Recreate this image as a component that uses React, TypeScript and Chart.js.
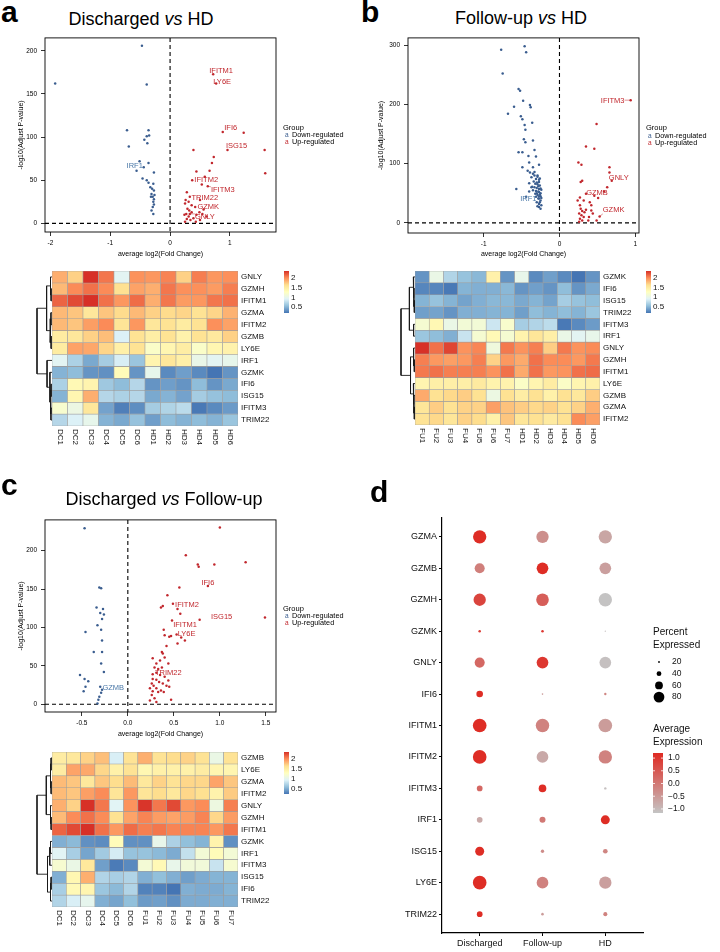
import React, { useEffect, useRef } from "react";
import { Chart, registerables } from "chart.js";

Chart.register(...registerables);
const FONT = "'Liberation Sans', Arial, Helvetica, sans-serif";
Chart.defaults.font.family = FONT;
Chart.defaults.color = "#000";

// ================= DATA =================
// ---- Panel a volcano: Discharged vs HD ----
const aDownX = [-1.92,-0.47,-0.39,-0.72,-0.69,-0.36,-0.35,-0.39,-0.43,-0.38,-0.51,-0.56,-0.44,-0.36,-0.27,-0.46,-0.39,-0.36,-0.28,-0.33,-0.27,-0.31,-0.29,-0.27,-0.28,-0.27,-0.29,-0.31,-0.28,-0.32,-0.30,-0.26];
const aDownY = [162,206,161,108,89,108,102,101,97,93,72,61,65,70,59,52,50,47,46,42,38,34,31,28,25,22,19,15,11,31,40,33];
const aUpX = [0.72,0.77,0.88,1.23,1.58,0.96,1.59,0.39,0.73,0.70,0.66,0.44,0.58,0.37,0.53,0.63,0.28,0.33,0.26,0.50,0.42,0.33,0.25,0.29,0.32,0.36,0.27,0.31,0.28,0.34,0.39,0.44,0.49,0.56,0.25,0.50,0.61,0.43,0.31,0.54,0.24,0.36];
const aUpY = [173,162,106,105,85,85,58,85,77,70,61,60,54,50,45,43,36,31,27,27,19,11,23,17,15,13,11,8,5,4,6,10,13,16,2,4,8,2,25,11,10,21];
const aLabelGenes = ["IFITM1","LY6E","IFI6","ISG15","IFITM2","IFITM3","TRIM22","GZMK","GNLY","IRF1"];
const aLabelSeries = ["up","up","up","up","up","up","up","up","up","down"];
const aLabelIndex = [0,1,2,5,13,15,17,20,21,12];
const aXTicks = [-2,-1,0,1];
const aYTicks = [0,50,100,150,200];

// ---- Panel b volcano: Follow-up vs HD ----
const bDownX = [-0.77,-0.46,-0.44,-0.75,-0.54,-0.52,-0.60,-0.48,-0.39,-0.38,-0.68,-0.51,-0.49,-0.36,-0.46,-0.45,-0.47,-0.45,-0.35,-0.33,-0.54,-0.49,-0.41,-0.31,-0.40,-0.27,-0.49,-0.35,-0.57,-0.42,-0.39,-0.35,-0.33,-0.29,-0.37,-0.31,-0.27,-0.34,-0.27,-0.40,-0.32,-0.29,-0.26,-0.36,-0.33,-0.30,-0.27,-0.24,-0.35,-0.31,-0.27,-0.25,-0.32,-0.29,-0.25,-0.31,-0.27,-0.25,-0.30,-0.27,-0.24,-0.27,-0.25,-0.44,-0.40,-0.37,-0.28,-0.26,-0.28,-0.25,-0.30,-0.26,-0.28,-0.24,-0.29,-0.33,-0.26,-0.30,-0.27,-0.29];
const bDownY = [292,298,288,252,226,223,196,206,199,195,184,180,175,169,165,157,141,136,139,123,119,119,113,112,102,98,94,94,57,88,85,83,80,80,77,74,73,70,69,67,66,65,63,61,60,59,57,56,55,54,52,50,49,47,45,44,41,38,35,32,30,27,24,44,53,60,41,75,62,58,68,48,53,42,78,86,35,50,45,28];
const bUpX = [0.94,0.49,0.35,0.46,0.25,0.29,0.28,0.30,0.66,0.66,0.69,0.63,0.59,0.35,0.46,0.51,0.40,0.42,0.53,0.27,0.28,0.30,0.33,0.35,0.26,0.29,0.32,0.27,0.30,0.26,0.39,0.44,0.49,0.38,0.24,0.27,0.32,0.42];
const bUpY = [207,167,129,125,102,98,69,71,94,85,71,60,53,49,46,42,35,30,11,30,24,20,18,22,16,13,10,7,4,2,10,16,4,4,38,43,38,21];
const bLabelGenes = ["IFITM3","GNLY","GZMB","GZMK","IRF1"];
const bLabelSeries = ["up","up","up","up","down"];
const bLabelIndex = [0,10,13,18,66];
const bXTicks = [-1,0,1];
const bYTicks = [0,100,200,300];

// ---- Panel c volcano: Discharged vs Follow-up ----
const cDownX = [-0.47,-0.31,-0.29,-0.34,-0.27,-0.30,-0.26,-0.28,-0.33,-0.29,-0.46,-0.28,-0.37,-0.28,-0.29,-0.26,-0.52,-0.47,-0.43,-0.46,-0.48,-0.30,-0.28,-0.29,-0.31,-0.32,-0.33];
const cDownY = [229,152,151,126,124,119,117,111,103,97,94,83,68,68,53,42,38,33,30,23,17,23,19,15,10,6,1];
const cUpX = [1.00,0.63,0.76,0.77,0.94,1.28,1.49,0.87,0.56,0.43,0.36,0.38,0.49,0.54,0.57,0.78,0.48,0.39,0.53,0.40,0.45,0.47,0.58,0.62,0.42,0.54,0.37,0.38,0.40,0.27,0.35,0.44,0.31,0.29,0.33,0.37,0.31,0.35,0.40,0.27,0.31,0.34,0.38,0.26,0.28,0.24,0.31,0.42,0.45,0.27,0.33,0.26,0.29,0.24,0.31,0.47,0.36,0.27,0.44,0.39];
const cUpY = [230,194,182,179,182,185,113,154,152,142,126,128,131,124,118,110,109,97,91,90,88,89,87,83,76,79,68,66,61,60,57,53,53,48,46,48,41,38,36,33,32,29,27,27,24,21,21,24,23,17,16,12,8,5,3,6,18,39,31,16];
const cLabelGenes = ["IFI6","IFITM2","ISG15","IFITM1","LY6E","TRIM22","GZMB"];
const cLabelSeries = ["up","up","up","up","up","up","down"];
const cLabelIndex = [7,12,15,16,18,36,21];
const cXTicks = [-0.5,0,0.5,1,1.5];
const cYTicks = [0,50,100,150,200];

// ---- Heatmap samples and per-gene expression (DC1-6, FU1-7, HD1-6) ----
const dcSamples = ["DC1","DC2","DC3","DC4","DC5","DC6"];
const fuSamples = ["FU1","FU2","FU3","FU4","FU5","FU6","FU7"];
const hdSamples = ["HD1","HD2","HD3","HD4","HD5","HD6"];
const exprGNLY   = [1.85,1.7,2.35,2.08,0.95,1.97, 2.33,2.08,2.25,1.95,2.0,1.08,2.05, 1.95,2.03,1.7,2.05,1.95,1.98];
const exprGZMH   = [1.8,2.0,2.1,2.0,1.62,1.9, 2.03,1.93,1.9,1.93,2.03,1.68,1.93, 1.85,2.08,1.98,1.98,1.93,2.05];
const exprIFITM1 = [2.15,2.25,2.35,2.1,1.95,2.12, 2.05,2.08,2.03,2.03,2.03,1.95,2.08, 1.85,2.08,1.93,1.95,2.08,2.1];
const exprGZMA   = [1.8,1.75,1.55,1.75,1.65,1.8, 1.55,1.7,1.6,1.68,1.68,1.9,1.75, 1.7,1.65,1.68,1.6,1.68,1.83];
const exprIFITM2 = [1.8,1.75,1.92,2.0,1.58,1.95, 1.58,1.65,1.55,1.68,1.63,1.43,1.73, 1.55,1.6,1.5,1.6,1.98,1.9];
const exprGZMB   = [1.5,1.55,1.7,1.78,0.9,1.6, 1.85,1.6,1.65,1.7,1.6,1.05,1.6, 1.47,1.6,1.43,1.6,1.53,1.7];
const exprLY6E   = [1.5,1.9,1.88,1.68,1.45,1.6, 1.38,1.45,1.45,1.45,1.5,1.4,1.4, 1.22,1.38,1.48,1.22,1.38,1.42];
const exprIRF1   = [0.95,0.68,0.45,0.65,0.88,0.6, 0.6,0.55,0.48,0.8,1.15,1.33,1.15, 1.4,1.55,1.45,1.02,0.95,1.0];
const exprGZMK   = [0.5,0.55,0.35,0.33,1.32,0.35, 0.35,1.02,0.7,0.58,0.52,1.42,0.35, 1.0,0.3,0.4,0.3,0.2,0.35];
const exprIFI6   = [0.68,1.35,1.4,0.62,0.55,0.72, 0.28,0.28,0.22,0.5,0.48,0.48,0.52, 0.35,0.4,0.35,0.55,0.35,0.45];
const exprISG15  = [0.5,1.38,1.85,0.72,0.68,0.72, 0.5,0.58,0.5,0.42,0.48,0.52,0.52, 0.45,0.5,0.42,0.65,0.58,0.55];
const exprIFITM3 = [1.18,1.05,1.55,0.42,0.25,0.32, 1.15,1.35,1.02,1.12,1.12,0.82,1.18, 0.65,0.7,0.75,0.22,0.3,0.38];
const exprTRIM22 = [0.72,0.9,1.0,0.5,0.45,0.58, 0.4,0.42,0.35,0.48,0.48,0.5,0.5, 0.4,0.55,0.5,0.55,0.5,0.6];

const hmARows = ["GNLY","GZMH","IFITM1","GZMA","IFITM2","GZMB","LY6E","IRF1","GZMK","IFI6","ISG15","IFITM3","TRIM22"];
const hmBRows = ["GZMK","IFI6","ISG15","TRIM22","IFITM3","IRF1","GNLY","GZMH","IFITM1","LY6E","GZMB","GZMA","IFITM2"];
const hmCRows = ["GZMB","LY6E","GZMA","IFITM2","GNLY","GZMH","IFITM1","GZMK","IRF1","IFITM3","ISG15","IFI6","TRIM22"];
const heatLegendTicks = [2, 1.5, 1, 0.5];

// dendrogram merges: [left, right, height]; "mK" refers to merge K
const dendroA = [["GZMH","IFITM1",0.06],["GNLY","m0",0.1],["GZMA","IFITM2",0.07],["GZMB","LY6E",0.06],["m2","m3",0.12],["m1","m4",0.36],["IFI6","ISG15",0.06],["IFITM3","TRIM22",0.07],["m6","m7",0.1],["GZMK","m8",0.14],["IRF1","m9",0.33],["m5","m10",1.0]];
const dendroB = [["ISG15","TRIM22",0.05],["IFI6","m0",0.08],["GZMK","m1",0.12],["IFITM3","IRF1",0.1],["m2","m3",0.4],["GZMH","IFITM1",0.05],["GNLY","m5",0.1],["GZMA","IFITM2",0.05],["GZMB","m7",0.08],["LY6E","m8",0.12],["m6","m9",0.32],["m4","m10",1.0]];
const dendroC = [["GZMB","LY6E",0.06],["GZMA","IFITM2",0.06],["m0","m1",0.1],["GZMH","IFITM1",0.06],["GNLY","m3",0.1],["m2","m4",0.38],["GZMK","IRF1",0.1],["m6","IFITM3",0.15],["ISG15","IFI6",0.06],["m8","TRIM22",0.1],["m7","m9",0.3],["m5","m10",1.0]];

// ---- Panel d dot plot ----
const dotGenes = ["GZMA","GZMB","GZMH","GZMK","GNLY","IFI6","IFITM1","IFITM2","IFITM3","IRF1","ISG15","LY6E","TRIM22"];
const dotGroups = ["Discharged","Follow-up","HD"];
const pctDischarged = [97,75,90,25,75,52,99,99,46,46,68,99,46];
const pctFollowup   = [90,86,92,25,86,19,98,86,59,48,30,86,25];
const pctHD         = [97,86,97,17,86,24,99,97,24,68,39,90,35];
const expDischarged = [1.15,-0.1,0.8,0.9,0.25,1.15,1.15,1.15,0.25,-0.75,1.15,1.15,1.15];
const expFollowup   = [-0.35,1.15,0.4,1.0,1.0,-0.55,-0.15,-0.75,1.15,0.0,-0.3,-0.15,-0.55];
const expHD         = [-0.7,-0.6,-1.15,-1.1,-1.1,-0.2,-0.55,-0.15,-1.1,1.15,-0.2,-0.6,-0.15];
const pctLegend = [20, 40, 60, 80];
const expLegend = [1.0, 0.5, 0.0, -0.5, -1.0];
const expRange = [-1.16, 1.2];

// ================= HELPERS =================
const UP_COL = "#C1272D";
const DOWN_COL = "#3A5D8F";
const DOWN_LABEL = "#4A78A8";
const HEAT_STOPS = ["#4575B4","#91BFDB","#E0F3F8","#FFFFBF","#FEE090","#FC8D59","#D73027"];
const DOT_LOW = "#C4C4C4";
const DOT_HIGH = "#DF2A22";

const allSamples = [...dcSamples, ...fuSamples, ...hdSamples];
const geneExpr: Record<string, number[]> = {
  GNLY: exprGNLY, GZMH: exprGZMH, IFITM1: exprIFITM1, GZMA: exprGZMA, IFITM2: exprIFITM2,
  GZMB: exprGZMB, LY6E: exprLY6E, IRF1: exprIRF1, GZMK: exprGZMK, IFI6: exprIFI6,
  ISG15: exprISG15, IFITM3: exprIFITM3, TRIM22: exprTRIM22,
};

function hexRgb(h: string) {
  return [parseInt(h.slice(1, 3), 16), parseInt(h.slice(3, 5), 16), parseInt(h.slice(5, 7), 16)];
}
function mix(a: string, b: string, u: number) {
  const A = hexRgb(a), B = hexRgb(b);
  return `rgb(${A.map((v, k) => Math.round(v + (B[k] - v) * u)).join(",")})`;
}
function heatColor(t: number) {
  t = Math.max(0, Math.min(1, t));
  const n = HEAT_STOPS.length - 1;
  const f = t * n;
  const i = Math.min(Math.floor(f), n - 1);
  return mix(HEAT_STOPS[i], HEAT_STOPS[i + 1], f - i);
}
function dotColor(v: number) {
  return mix(DOT_LOW, DOT_HIGH, (v - expRange[0]) / (expRange[1] - expRange[0]));
}
function dotRadius(p: number) {
  return Math.max(0.4, 0.075 * (p - 8));
}

// ================= VOLCANO =================
function volcanoConfig(v: any) {
  const series: any = {
    up: { x: v.upX, y: v.upY },
    down: { x: v.downX, y: v.downY },
  };
  const plugin = {
    id: "volcanoDecor",
    beforeDatasetsDraw(chart: any) {
      const { ctx, chartArea: a, scales } = chart;
      const x0 = scales.x.getPixelForValue(0);
      const y0 = scales.y.getPixelForValue(0);
      ctx.save();
      ctx.setLineDash([4, 3]);
      ctx.lineWidth = 1.1;
      ctx.strokeStyle = "#000";
      ctx.beginPath();
      ctx.moveTo(x0, a.top); ctx.lineTo(x0, a.bottom);
      ctx.moveTo(a.left, y0); ctx.lineTo(a.right, y0);
      ctx.stroke();
      ctx.restore();
    },
    afterDatasetsDraw(chart: any) {
      const { ctx, chartArea: a, scales } = chart;
      ctx.save();
      ctx.strokeStyle = "#000";
      ctx.lineWidth = 0.9;
      ctx.strokeRect(a.left, a.top, a.right - a.left, a.bottom - a.top);
      // gene labels
      ctx.font = `7.5px ${FONT}`;
      ctx.textAlign = "center";
      ctx.textBaseline = "middle";
      v.labelGenes.forEach((g: string, k: number) => {
        const s = series[v.labelSeries[k]];
        const i = v.labelIndex[k];
        const px = scales.x.getPixelForValue(s.x[i]);
        const py = scales.y.getPixelForValue(s.y[i]);
        const [dx, dy] = v.labelOffsets[k];
        const tx = px + dx, ty = py + dy;
        const col = v.labelSeries[k] === "up" ? UP_COL : DOWN_LABEL;
        const w = ctx.measureText(g).width;
        const ex = Math.max(tx - w / 2, Math.min(px, tx + w / 2));
        const ey = Math.max(ty - 3.5, Math.min(py, ty + 3.5));
        const gap = Math.hypot(ex - px, ey - py);
        if (gap > 3 && gap < 8) {
          ctx.strokeStyle = col;
          ctx.lineWidth = 0.5;
          ctx.beginPath(); ctx.moveTo(px, py); ctx.lineTo(ex, ey); ctx.stroke();
        }
        ctx.fillStyle = col;
        ctx.fillText(g, tx, ty);
      });
      // legend
      const lx = a.right + 7;
      const mid = (a.top + a.bottom) / 2;
      ctx.textAlign = "left";
      ctx.fillStyle = "#000";
      ctx.font = `7.5px ${FONT}`;
      ctx.fillText("Group", lx, mid - 7.5);
      ctx.font = `6.5px ${FONT}`;
      ctx.fillStyle = DOWN_COL; ctx.fillText("a", lx + 2, mid + 0.5);
      ctx.fillStyle = UP_COL; ctx.fillText("a", lx + 2, mid + 7.5);
      ctx.fillStyle = "#000";
      ctx.font = `7.3px ${FONT}`;
      ctx.fillText("Down-regulated", lx + 9, mid + 0.5);
      ctx.fillText("Up-regulated", lx + 9, mid + 7.5);
      ctx.restore();
    },
  };
  const tickCommon = { font: { size: 6.5 }, color: "#000", maxRotation: 0, autoSkip: false };
  const gridCommon = { drawOnChartArea: false, drawTicks: true, tickLength: 4, color: "#000", lineWidth: 0.8 };
  return {
    type: "scatter",
    data: {
      datasets: [
        { label: "Down-regulated", data: v.downX.map((x: number, i: number) => ({ x, y: v.downY[i] })), backgroundColor: DOWN_COL, pointRadius: 1.25, borderWidth: 0 },
        { label: "Up-regulated", data: v.upX.map((x: number, i: number) => ({ x, y: v.upY[i] })), backgroundColor: UP_COL, pointRadius: 1.25, borderWidth: 0 },
      ],
    },
    options: {
      animation: false,
      responsive: false,
      events: [],
      layout: { padding: { top: v.padTop, right: v.padRight, left: 0, bottom: 0 } },
      plugins: { legend: { display: false }, tooltip: { enabled: false } },
      scales: {
        x: {
          type: "linear", min: v.xMin, max: v.xMax,
          afterBuildTicks: (s: any) => { s.ticks = v.xTicks.map((value: number) => ({ value })); },
          ticks: { ...tickCommon, padding: 3, callback: (val: number) => val.toFixed(v.xDec) },
          grid: gridCommon,
          border: { display: false },
          title: { display: true, text: "average log2(Fold Change)", font: { size: 7 }, color: "#000", padding: { top: 0, bottom: v.xTitlePad } },
          afterFit: (s: any) => { s.height = v.xH; },
        },
        y: {
          type: "linear", min: v.yMin, max: v.yMax,
          afterBuildTicks: (s: any) => { s.ticks = v.yTicks.map((value: number) => ({ value })); },
          ticks: { ...tickCommon, padding: 4, callback: (val: number) => String(val) },
          grid: gridCommon,
          border: { display: false },
          title: { display: true, text: "-log10(Adjust P-value)", font: { size: 7 }, color: "#000", padding: { top: 17, bottom: 0 } },
          afterFit: (s: any) => { s.width = v.yW; },
        },
      },
    },
    plugins: [plugin],
  };
}

// ================= HEATMAP =================
function heatmapConfig(rows: string[], cols: string[], lay: any) {
  const vals = rows.map((g) => cols.map((c) => geneExpr[g][allSamples.indexOf(c)]));
  const flat = vals.flat();
  const vmin = Math.min(...flat), vmax = Math.max(...flat);
  const datasets = rows.map((g, r) => ({
    label: g,
    data: cols.map(() => [r, r + 1]),
    backgroundColor: vals[r].map((v) => heatColor((v - vmin) / (vmax - vmin))),
    borderColor: "#9d9d9d",
    borderWidth: 0.6,
    borderSkipped: false,
    grouped: false,
    barPercentage: 1,
    categoryPercentage: 1,
  }));
  const plugin = {
    id: "heatDecor",
    afterDraw(chart: any) {
      const { ctx, chartArea: a, scales } = chart;
      ctx.save();
      ctx.fillStyle = "#111";
      ctx.font = `8px ${FONT}`;
      ctx.textAlign = "left";
      ctx.textBaseline = "middle";
      cols.forEach((c, i) => {
        const px = scales.x.getPixelForValue(i);
        ctx.save();
        ctx.translate(px, a.bottom + 3);
        ctx.rotate(Math.PI / 2);
        ctx.fillText(c, 0, 0);
        ctx.restore();
      });
      const lx = a.right + 46, ly = a.top, lh = 42, lw = 5;
      const grad = ctx.createLinearGradient(0, ly + lh, 0, ly);
      HEAT_STOPS.forEach((s, k) => grad.addColorStop(k / (HEAT_STOPS.length - 1), s));
      ctx.fillStyle = grad;
      ctx.fillRect(lx, ly, lw, lh);
      ctx.fillStyle = "#111";
      heatLegendTicks.forEach((v) => {
        ctx.fillText(String(v), lx + lw + 2, ly + ((vmax - v) / (vmax - vmin)) * lh);
      });
      ctx.restore();
    },
  };
  return {
    type: "bar",
    data: { labels: cols, datasets },
    options: {
      animation: false,
      responsive: false,
      events: [],
      layout: { padding: { top: lay.padTop, left: lay.padLeft, right: lay.padRight, bottom: 0 } },
      plugins: { legend: { display: false }, tooltip: { enabled: false } },
      scales: {
        x: {
          type: "category", offset: true,
          grid: { display: false }, border: { display: false }, ticks: { display: false },
          afterFit: (s: any) => { s.height = lay.xH; },
        },
        y: {
          type: "linear", position: "right", min: 0, max: rows.length, reverse: true,
          afterBuildTicks: (s: any) => { s.ticks = rows.map((_, i) => ({ value: i + 0.5 })); },
          ticks: { font: { size: 8 }, color: "#111", padding: 3, autoSkip: false, callback: (val: number) => rows[Math.floor(val)] },
          grid: { display: false, drawTicks: false },
          border: { display: false },
          afterFit: (s: any) => { s.width = 45; },
        },
      },
    },
    plugins: [plugin],
  };
}

function dendroConfig(rows: string[], merges: any[], lay: any) {
  const pos: Record<string, { y: number; h: number }> = {};
  rows.forEach((g, i) => { pos[g] = { y: i + 0.5, h: 0 }; });
  const datasets = merges.map(([l, r, h]: any, k: number) => {
    const A = pos[l], B = pos[r];
    pos["m" + k] = { y: (A.y + B.y) / 2, h };
    return {
      data: [{ x: A.h, y: A.y }, { x: h, y: A.y }, { x: h, y: B.y }, { x: B.h, y: B.y }],
      showLine: true, pointRadius: 0, borderColor: "#1a1a1a", borderWidth: 0.9, fill: false, clip: false,
    };
  });
  return {
    type: "scatter",
    data: { datasets },
    options: {
      animation: false, responsive: false, events: [],
      layout: { padding: { top: lay.padTop, bottom: lay.xH, left: 2, right: 0 } },
      plugins: { legend: { display: false }, tooltip: { enabled: false } },
      scales: {
        x: { type: "linear", display: false, min: 0, max: 1, reverse: true },
        y: { type: "linear", display: false, min: 0, max: rows.length, reverse: true },
      },
    },
  };
}

// ================= DOT PLOT =================
function dotConfig() {
  const pcts = [pctDischarged, pctFollowup, pctHD];
  const exps = [expDischarged, expFollowup, expHD];
  const datasets = dotGroups.map((grp, gi) => ({
    label: grp,
    data: dotGenes.map((_, k) => ({ x: gi, y: k, r: dotRadius(pcts[gi][k]) })),
    backgroundColor: dotGenes.map((_, k) => dotColor(exps[gi][k])),
    borderWidth: 0,
  }));
  const plugin = {
    id: "dotLegend",
    afterDraw(chart: any) {
      const { ctx, chartArea: a } = chart;
      const lx = a.right + 10;
      ctx.save();
      ctx.fillStyle = "#111";
      ctx.textAlign = "left";
      ctx.textBaseline = "middle";
      ctx.font = `10px ${FONT}`;
      ctx.fillText("Percent", lx, 127);
      ctx.fillText("Expressed", lx, 140);
      ctx.font = `8.5px ${FONT}`;
      pctLegend.forEach((p, i) => {
        const yy = 157 + i * 11.7;
        ctx.fillStyle = "#000";
        ctx.beginPath(); ctx.arc(lx + 6, yy, dotRadius(p), 0, Math.PI * 2); ctx.fill();
        ctx.fillStyle = "#111";
        ctx.fillText(String(p), lx + 19, yy);
      });
      ctx.font = `10px ${FONT}`;
      ctx.fillText("Average", lx, 224);
      ctx.fillText("Expression", lx, 237);
      const by = 248, bh = 60, bw = 10;
      const grad = ctx.createLinearGradient(0, by + bh, 0, by);
      grad.addColorStop(0, DOT_LOW);
      grad.addColorStop(1, DOT_HIGH);
      ctx.fillStyle = grad;
      ctx.fillRect(lx, by, bw, bh);
      ctx.font = `8.5px ${FONT}`;
      expLegend.forEach((v) => {
        const yy = by + ((expRange[1] - v) / (expRange[1] - expRange[0])) * bh;
        ctx.strokeStyle = "#fff";
        ctx.lineWidth = 0.8;
        ctx.beginPath();
        ctx.moveTo(lx, yy); ctx.lineTo(lx + 2, yy);
        ctx.moveTo(lx + bw - 2, yy); ctx.lineTo(lx + bw, yy);
        ctx.stroke();
        ctx.fillStyle = "#111";
        ctx.fillText(v.toFixed(1).replace("-", "\u2212"), lx + bw + 5, yy);
      });
      ctx.restore();
    },
  };
  const tickGrid = { drawOnChartArea: false, drawTicks: true, tickLength: 3, color: "#000", lineWidth: 1 };
  return {
    type: "bubble",
    data: { datasets },
    options: {
      animation: false, responsive: false, events: [],
      layout: { padding: { top: 13, right: 77, left: 0, bottom: 0 } },
      plugins: { legend: { display: false }, tooltip: { enabled: false } },
      scales: {
        x: {
          type: "linear", min: -0.6, max: 2.6,
          afterBuildTicks: (s: any) => { s.ticks = dotGroups.map((_, i) => ({ value: i })); },
          ticks: { font: { size: 9 }, color: "#111", padding: 2, maxRotation: 0, autoSkip: false, callback: (val: number) => dotGroups[val] },
          grid: tickGrid,
          border: { display: true, color: "#000", width: 1.2 },
          afterFit: (s: any) => { s.height = 19; },
        },
        y: {
          type: "linear", min: -0.6, max: 12.6, reverse: true,
          afterBuildTicks: (s: any) => { s.ticks = dotGenes.map((_, i) => ({ value: i })); },
          ticks: { font: { size: 9 }, color: "#111", padding: 2, autoSkip: false, callback: (val: number) => dotGenes[val] },
          grid: tickGrid,
          border: { display: true, color: "#000", width: 1.2 },
          afterFit: (s: any) => { s.width = 72; },
        },
      },
    },
    plugins: [plugin],
  };
}

// ================= COMPONENTS =================
function ChartBox({ left, top, width, height, make }: any) {
  const ref = useRef<HTMLCanvasElement>(null);
  useEffect(() => {
    const chart = new Chart(ref.current as HTMLCanvasElement, make());
    return () => chart.destroy();
  }, []);
  return <canvas ref={ref} width={width} height={height} style={{ position: "absolute", left, top, width, height }} />;
}

const letterStyle: any = { position: "absolute", fontFamily: FONT, fontWeight: "bold", fontSize: 30, lineHeight: 1, color: "#000" };
const titleStyle: any = { position: "absolute", fontFamily: FONT, fontSize: 18, lineHeight: 1, color: "#000", whiteSpace: "nowrap", transform: "translateX(-50%)" };

export default function App() {
  const va = { downX: aDownX, downY: aDownY, upX: aUpX, upY: aUpY, labelGenes: aLabelGenes, labelSeries: aLabelSeries, labelIndex: aLabelIndex,
    labelOffsets: [[8,-3],[6,-2],[8,-4],[9,-4],[14,0],[15,4],[15,1],[13,0],[15,3],[-9,-1]],
    xMin: -2.09, xMax: 1.77, yMin: -10, yMax: 215, xTicks: aXTicks, yTicks: aYTicks, xDec: 0,
    padTop: 6, padRight: 84, xH: 28, yW: 45, xTitlePad: 2 };
  const vb = { downX: bDownX, downY: bDownY, upX: bUpX, upY: bUpY, labelGenes: bLabelGenes, labelSeries: bLabelSeries, labelIndex: bLabelIndex,
    labelOffsets: [[-18,1],[7,-3],[11,-1],[14,-6],[-10,0]],
    xMin: -2.0, xMax: 1.05, yMin: -17, yMax: 312, xTicks: bXTicks, yTicks: bYTicks, xDec: 0,
    padTop: 6, padRight: 81, xH: 27, yW: 48, xTitlePad: 2 };
  const vc = { downX: cDownX, downY: cDownY, upX: cUpX, upY: cUpY, labelGenes: cLabelGenes, labelSeries: cLabelSeries, labelIndex: cLabelIndex,
    labelOffsets: [[0,-3],[14,1],[22,-3],[13,4],[10,0],[12,0],[13,1]],
    xMin: -0.9, xMax: 1.61, yMin: -10, yMax: 240, xTicks: cXTicks, yTicks: cYTicks, xDec: 1,
    padTop: 6, padRight: 84, xH: 30, yW: 45, xTitlePad: 4 };
  const la = { padTop: 11, padLeft: 52, padRight: 77, xH: 44 };
  const lb = { padTop: 11, padLeft: 55, padRight: 75, xH: 45 };
  const lc = { padTop: 10, padLeft: 52, padRight: 77, xH: 45 };
  return (
    <div style={{ position: "absolute", left: 0, top: 0, width: 720, height: 952, background: "#fff", overflow: "hidden" }}>
      <ChartBox left={0} top={30} width={360} height={230} make={() => volcanoConfig(va)} />
      <ChartBox left={360} top={30} width={360} height={230} make={() => volcanoConfig(vb)} />
      <ChartBox left={0} top={512} width={360} height={230} make={() => volcanoConfig(vc)} />
      <ChartBox left={0} top={260} width={360} height={210} make={() => heatmapConfig(hmARows, [...dcSamples, ...hdSamples], la)} />
      <ChartBox left={360} top={260} width={360} height={210} make={() => heatmapConfig(hmBRows, [...fuSamples, ...hdSamples], lb)} />
      <ChartBox left={0} top={742} width={360} height={210} make={() => heatmapConfig(hmCRows, [...dcSamples, ...fuSamples], lc)} />
      <ChartBox left={35} top={260} width={17} height={210} make={() => dendroConfig(hmARows, dendroA, la)} />
      <ChartBox left={399} top={260} width={16} height={210} make={() => dendroConfig(hmBRows, dendroB, lb)} />
      <ChartBox left={35} top={742} width={17} height={210} make={() => dendroConfig(hmCRows, dendroC, lc)} />
      <ChartBox left={370} top={505} width={350} height={447} make={dotConfig} />
      <div style={{ ...letterStyle, left: 1, top: -3 }}>a</div>
      <div style={{ ...letterStyle, left: 361, top: -3 }}>b</div>
      <div style={{ ...letterStyle, left: 1, top: 470 }}>c</div>
      <div style={{ ...letterStyle, left: 370, top: 477 }}>d</div>
      <div style={{ ...titleStyle, left: 141, top: 10 }}>Discharged <i>vs</i> HD</div>
      <div style={{ ...titleStyle, left: 521, top: 9 }}>Follow-up <i>vs</i> HD</div>
      <div style={{ ...titleStyle, left: 164, top: 490 }}>Discharged <i>vs</i> Follow-up</div>
    </div>
  );
}
